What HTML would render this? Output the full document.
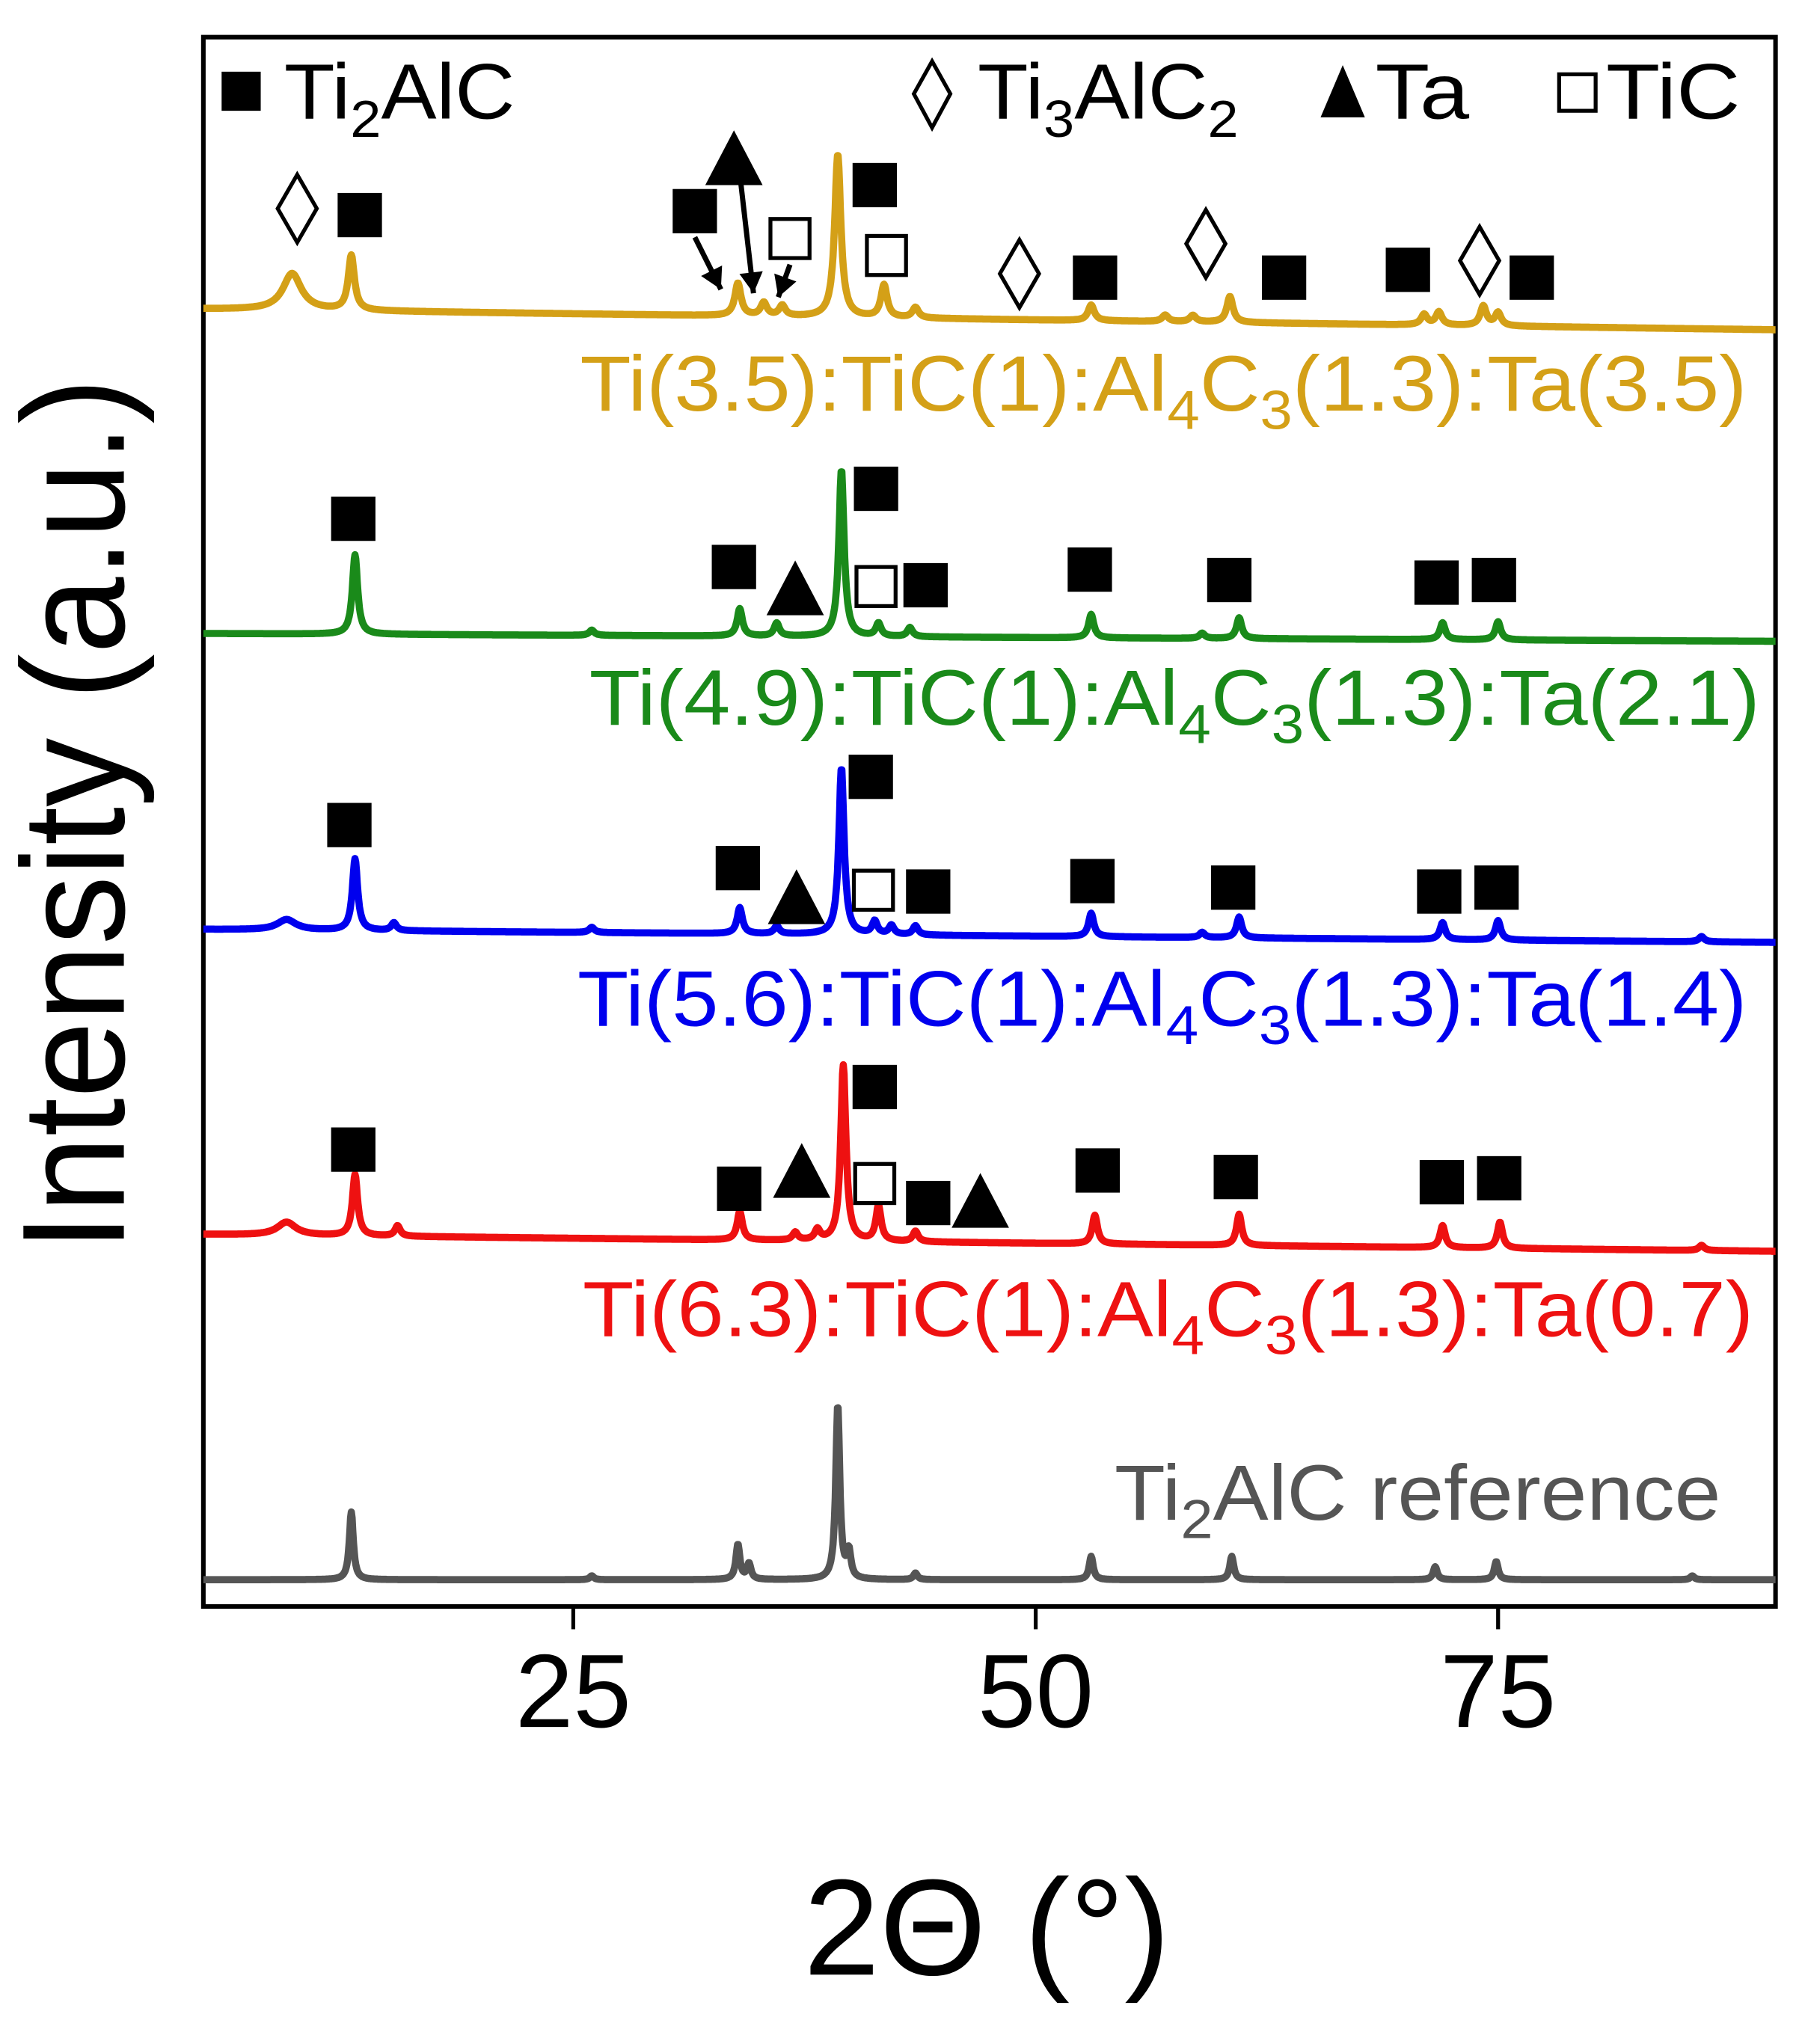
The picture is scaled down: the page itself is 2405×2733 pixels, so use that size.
<!DOCTYPE html>
<html><head><meta charset="utf-8"><style>
html,body{margin:0;padding:0;background:#fff}
svg{display:block}
text{font-family:"Liberation Sans",Arial,sans-serif}
</style></head><body>
<svg id="chart" width="2405" height="2733" viewBox="0 0 1380 1568.2" xmlns="http://www.w3.org/2000/svg">
<rect x="156" y="28.5" width="1206" height="1204" fill="none" stroke="#000" stroke-width="3.5"/>
<g id="traces"></g>
<g id="ticks"></g>
<g id="marks"></g>

<text transform="translate(95,625) rotate(-90)" text-anchor="middle" font-size="112" textLength="670" lengthAdjust="spacingAndGlyphs">Intensity (a.u.)</text>
<text x="757" y="1515" text-anchor="middle" font-size="105">2Θ (°)</text>

<g font-size="60">
<rect x="170" y="55" width="30" height="30" fill="#000"/>
<text x="218" y="91" textLength="177" lengthAdjust="spacingAndGlyphs">Ti<tspan font-size="40" dy="14">2</tspan><tspan dy="-14">AlC</tspan></text>
<polygon points="715,47 729,72 715,98 701,72" fill="#fff" stroke="#000" stroke-width="3"/>
<text x="750" y="91" textLength="200" lengthAdjust="spacingAndGlyphs">Ti<tspan font-size="40" dy="14">3</tspan><tspan dy="-14">AlC</tspan><tspan font-size="40" dy="14">2</tspan></text>
<polygon points="1030,50 1047,90 1013,90" fill="#000"/>
<text x="1055" y="91" textLength="72" lengthAdjust="spacingAndGlyphs">Ta</text>
<rect x="1196" y="57" width="28" height="28" fill="#fff" stroke="#000" stroke-width="3"/>
<text x="1232" y="91" textLength="103" lengthAdjust="spacingAndGlyphs">TiC</text>
</g>

<g font-size="60">
<text x="445" y="315" fill="#d4a017" textLength="895" lengthAdjust="spacingAndGlyphs">Ti(3.5):TiC(1):Al<tspan font-size="42" dy="14">4</tspan><tspan dy="-14">C</tspan><tspan font-size="42" dy="14">3</tspan><tspan dy="-14">(1.3):Ta(3.5)</tspan></text>
<text x="452" y="556" fill="#1a8a1a" textLength="898" lengthAdjust="spacingAndGlyphs">Ti(4.9):TiC(1):Al<tspan font-size="42" dy="14">4</tspan><tspan dy="-14">C</tspan><tspan font-size="42" dy="14">3</tspan><tspan dy="-14">(1.3):Ta(2.1)</tspan></text>
<text x="443" y="787" fill="#0000ee" textLength="897" lengthAdjust="spacingAndGlyphs">Ti(5.6):TiC(1):Al<tspan font-size="42" dy="14">4</tspan><tspan dy="-14">C</tspan><tspan font-size="42" dy="14">3</tspan><tspan dy="-14">(1.3):Ta(1.4)</tspan></text>
<text x="447" y="1025" fill="#ee1111" textLength="898" lengthAdjust="spacingAndGlyphs">Ti(6.3):TiC(1):Al<tspan font-size="42" dy="14">4</tspan><tspan dy="-14">C</tspan><tspan font-size="42" dy="14">3</tspan><tspan dy="-14">(1.3):Ta(0.7)</tspan></text>
<text x="855" y="1166" fill="#555" textLength="465" lengthAdjust="spacingAndGlyphs">Ti<tspan font-size="42" dy="14">2</tspan><tspan dy="-14">AlC reference</tspan></text>
</g>
</svg>
<script>
const xTicks=[25,50,75];
const goldPos=[9.8,13.0,33.9,35.3,36.3,39.3,41.8,43.5,53.0,57.0,58.5,60.5,71.0,71.8,74.2,75.0];
const goldInt=[28,42,25,10,8,125,25,8,12,5,5,20,8,10,15,10];
const goldBase=[237,253];
const greenPos=[13.2,26.0,34.0,36.0,39.5,41.5,43.2,53.0,59.0,61.0,72.0,75.0];
const greenInt=[61,4,21,10,128,10,7,18,4,16,13,14];
const greenBase=[486,492];
const bluePos=[9.5,13.2,15.3,26.0,34.0,36.0,39.5,41.3,42.2,43.5,53.0,59.0,61.0,72.0,75.0,86.0];
const blueInt=[8,55,6,4,20,6,128,10,7,7,18,4,16,13,15,4];
const blueBase=[713,723];
const redPos=[9.5,13.2,15.5,34.0,37.0,38.2,39.6,41.5,43.5,53.2,61.0,72.0,75.1,86.0];
const redInt=[10,47,8,22,6,8,135,27,8,22,24,17,20,4];
const redBase=[947,960];
const refPos=[13.0,26.0,33.9,34.5,39.3,39.9,43.5,53.0,60.6,71.6,74.9,85.5];
const refInt=[52,3,27,12,134,20,5,18,18,10,14,3];
const refBase=[1212,1212];

const NS="http://www.w3.org/2000/svg";
const X0=156,X1=1362,D0=5,D1=90;
function xs(d){return X0+(d-D0)/(D1-D0)*(X1-X0);}
function ys(base,v){return base-v;}
const traces=document.getElementById('traces');
function draw(pos,ints,base,color,name,w){
  let d="";
  for(let t=D0;t<=D1+1e-9;t+=0.04){
    let b=base[0]+(base[1]-base[0])*(t-D0)/(D1-D0);
    let v=0;
    for(let i=0;i<pos.length;i++){
      const wd=(pos[i]<11&&name!=='trace-reference')?0.6:w;
      const u=(t-pos[i])/wd; v+=ints[i]/(1+u*u);
    }
    d+=(d?"L":"M")+xs(t).toFixed(1)+","+ys(b,v).toFixed(1);
  }
  const p=document.createElementNS(NS,'path');
  p.setAttribute('d',d);p.setAttribute('fill','none');p.setAttribute('stroke',color);
  p.setAttribute('stroke-width','5.5');p.setAttribute('stroke-linejoin','round');
  
  
  traces.appendChild(p);
}
draw(goldPos,goldInt,goldBase,'#d4a017','trace-gold',0.2);
draw(greenPos,greenInt,greenBase,'#1a8a1a','trace-green',0.17);
draw(bluePos,blueInt,blueBase,'#0000ee','trace-blue',0.17);
draw(redPos,redInt,redBase,'#ee1111','trace-red',0.17);
draw(refPos,refInt,refBase,'#555555','trace-reference',0.13);

const tg=document.getElementById('ticks');
xTicks.forEach(v=>{
  const l=document.createElementNS(NS,'line');
  l.setAttribute('x1',xs(v));l.setAttribute('x2',xs(v));l.setAttribute('y1',1232);l.setAttribute('y2',1250);
  l.setAttribute('stroke','#000');l.setAttribute('stroke-width','3');
  
  
  tg.appendChild(l);
  const t=document.createElementNS(NS,'text');
  t.setAttribute('x',xs(v));t.setAttribute('y',1325);t.setAttribute('text-anchor','middle');t.setAttribute('font-size','80');
  t.textContent=v;
  
  
  tg.appendChild(t);
});

const markers=[
['d',228,160],['s',276,165],['s',533,162],['t',563,122],['o',606,183],['s',671,142],['o',680,196],['d',782,210],['s',840,213],['d',925,187],['s',985,213],['s',1080,207],['d',1135,200],['s',1175,213],
['s',271,398],['s',563,435],['t',610,452],['s',672,375],['o',672,450],['s',710,449],['s',836,437],['s',943,445],['s',1102,447],['s',1146,445],
['s',268,633],['s',566,666],['t',611,689],['s',668,596],['o',670,683],['s',712,684],['s',838,676],['s',946,681],['s',1104,684],['s',1148,681],
['s',271,882],['s',567,912],['t',615,899],['s',671,834],['o',671,908],['s',712,923],['t',752,922],['s',842,898],['s',948,903],['s',1106,907],['s',1150,904]];
const mg=document.getElementById('marks');
markers.forEach(m=>{
  let e;const [k,cx,cy]=m;
  if(k==='s'){e=document.createElementNS(NS,'rect');e.setAttribute('x',cx-17);e.setAttribute('y',cy-17);e.setAttribute('width',34);e.setAttribute('height',34);e.setAttribute('fill','#000');}
  else if(k==='o'){e=document.createElementNS(NS,'rect');e.setAttribute('x',cx-15);e.setAttribute('y',cy-15);e.setAttribute('width',30);e.setAttribute('height',30);e.setAttribute('fill','#fff');e.setAttribute('stroke','#000');e.setAttribute('stroke-width','3');}
  else if(k==='t'){e=document.createElementNS(NS,'polygon');e.setAttribute('points',`${cx},${cy-22} ${cx+22},${cy+20} ${cx-22},${cy+20}`);e.setAttribute('fill','#000');}
  else {e=document.createElementNS(NS,'polygon');e.setAttribute('points',`${cx},${cy-26} ${cx+15},${cy} ${cx},${cy+26} ${cx-15},${cy}`);e.setAttribute('fill','#fff');e.setAttribute('stroke','#000');e.setAttribute('stroke-width','3');}
  
  
  mg.appendChild(e);
});
const arrows=[[533,182,553,222],[568,138,578,225],[606,203,597,228]];
arrows.forEach(a=>{
  const l=document.createElementNS(NS,'line');
  l.setAttribute('x1',a[0]);l.setAttribute('y1',a[1]);l.setAttribute('x2',a[2]);l.setAttribute('y2',a[3]);
  l.setAttribute('stroke','#000');l.setAttribute('stroke-width','4');
  
  
  mg.appendChild(l);
  const ang=Math.atan2(a[3]-a[1],a[2]-a[0]);const L=16,W=9;
  const bx=a[2]-L*Math.cos(ang),by=a[3]-L*Math.sin(ang);
  const h=document.createElementNS(NS,'polygon');
  h.setAttribute('points',`${a[2]},${a[3]} ${bx-W*Math.sin(ang)},${by+W*Math.cos(ang)} ${bx+W*Math.sin(ang)},${by-W*Math.cos(ang)}`);
  h.setAttribute('fill','#000');
  
  
  mg.appendChild(h);
});
</script>
</body></html>
